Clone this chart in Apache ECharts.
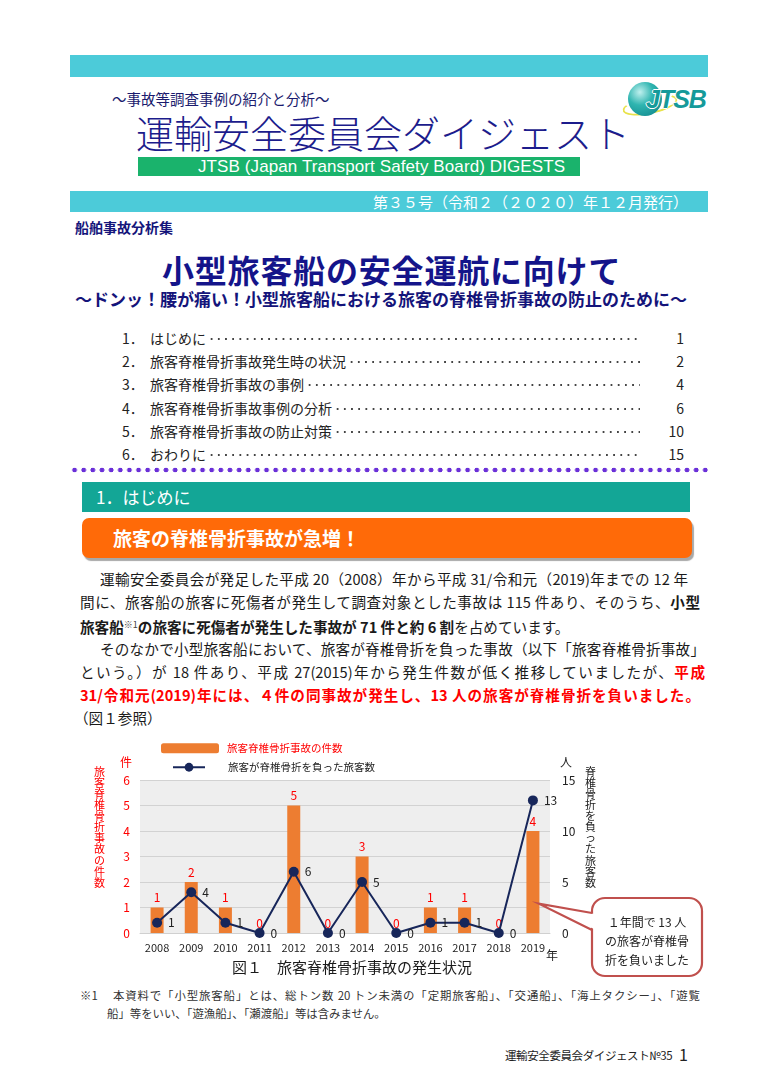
<!DOCTYPE html>
<html lang="ja">
<head>
<meta charset="utf-8">
<script src="https://cdn.jsdelivr.net/npm/echarts@6/dist/echarts.min.js"></script>
<style>
html,body{margin:0;padding:0;background:#fff;}
#page{position:relative;width:770px;height:1089px;overflow:hidden;font-family:"Noto Sans CJK JP","Noto Sans",sans-serif;color:#222;}
.a{position:absolute;white-space:nowrap;}
.band{background:#4ccbd9;}
.toc{position:absolute;left:122px;width:562px;height:20px;display:flex;align-items:center;font-size:14px;line-height:20px;color:#222;}
.toc .n{display:inline-block;width:28px;}
.toc .lead{flex:1;height:20px;background-image:radial-gradient(circle,#444 0.75px,rgba(0,0,0,0) 1.15px);background-size:7.2px 20px;background-repeat:repeat-x;background-position:2px 1px;}
.toc .p{width:44px;text-align:right;}
.ln{position:absolute;white-space:nowrap;font-size:14.6px;line-height:23px;height:23px;text-align:justify;text-align-last:justify;color:#1a1a1a;}
.b{font-weight:bold;}
.r{color:#f00;font-weight:bold;}
.fn{position:absolute;white-space:nowrap;font-size:11.4px;line-height:16px;color:#333;text-align:justify;text-align-last:justify;}
</style>
</head>
<body>
<div id="page">
  <div class="a band" style="left:70px;top:55px;width:638px;height:22px;"></div>
  <div class="a" style="left:112px;top:92px;font-size:14.5px;line-height:14px;color:#1b1b6e;">～事故等調査事例の紹介と分析～</div>
  <!-- logo -->
  <div class="a" style="left:622px;top:96px;width:52px;height:14px;border-radius:50%;border:2px solid #e8e24a;border-top-color:transparent;transform:rotate(-12deg);"></div>
  <div class="a" style="left:628px;top:82px;width:34px;height:34px;border-radius:50%;background:radial-gradient(circle at 35% 30%,#bff0ee 0%,#2fb5b0 40%,#0b7f86 100%);"></div>
  <div class="a" style="left:646px;top:84px;font-family:'Liberation Sans',sans-serif;font-style:italic;font-weight:bold;font-size:25px;line-height:30px;color:#159a9a;letter-spacing:-1px;text-shadow:1px 0 #fff,-1px 0 #fff,0 1px #fff,0 -1px #fff;">JTSB</div>
  <div class="a" style="left:136px;top:114px;font-size:38px;line-height:36px;font-weight:300;color:#1c1c8c;">運輸安全委員会ダイジェスト</div>
  <div class="a" style="left:138px;top:157px;width:442px;height:19px;background:#1ab36c;"></div>
  <div class="a" style="left:198px;top:157px;font-family:'Liberation Sans',sans-serif;font-size:17px;line-height:19px;color:#fff;font-weight:300;letter-spacing:0.1px;">JTSB (Japan Transport Safety Board) DIGESTS</div>
  <div class="a band" style="left:70px;top:191px;width:638px;height:21px;"></div>
  <div class="a" style="left:366px;top:191px;width:322px;font-size:15px;line-height:21px;color:#fff;text-align:right;">第３５号（令和２（２０２０）年１２月発行）</div>

  <div class="a" style="left:75px;top:219px;font-size:14px;line-height:16px;font-weight:bold;color:#14147a;">船舶事故分析集</div>
  <div class="a" style="left:162px;top:253px;font-size:32px;line-height:32px;font-weight:bold;color:#14148a;letter-spacing:0.8px;">小型旅客船の安全運航に向けて</div>
  <div class="a" style="left:75px;top:290px;font-size:17px;line-height:17px;font-weight:bold;color:#14147a;">～ドンッ！腰が痛い！小型旅客船における旅客の脊椎骨折事故の防止のために～</div>

  <div class="toc" style="top:328px;"><span class="n">1．</span><span>はじめに</span><span class="lead"></span><span class="p">1</span></div>
  <div class="toc" style="top:351px;"><span class="n">2．</span><span>旅客脊椎骨折事故発生時の状況</span><span class="lead"></span><span class="p">2</span></div>
  <div class="toc" style="top:374px;"><span class="n">3．</span><span>旅客脊椎骨折事故の事例</span><span class="lead"></span><span class="p">4</span></div>
  <div class="toc" style="top:398px;"><span class="n">4．</span><span>旅客脊椎骨折事故事例の分析</span><span class="lead"></span><span class="p">6</span></div>
  <div class="toc" style="top:421px;"><span class="n">5．</span><span>旅客脊椎骨折事故の防止対策</span><span class="lead"></span><span class="p">10</span></div>
  <div class="toc" style="top:444px;"><span class="n">6．</span><span>おわりに</span><span class="lead"></span><span class="p">15</span></div>

  <div class="a" style="left:70px;top:467px;width:640px;height:6px;background-image:radial-gradient(circle,#6a2fd8 2.1px,rgba(0,0,0,0) 2.6px);background-size:9.15px 6px;background-repeat:repeat-x;"></div>

  <div class="a" style="left:82px;top:482px;width:608px;height:30px;background:#13a696;"></div>
  <div class="a" style="left:96px;top:482px;font-size:17px;line-height:30px;color:#fff;">1．はじめに</div>
  <div class="a" style="left:82px;top:518px;width:610px;height:40px;border-radius:7px;background:#ff6a08;box-shadow:2px 3px 1px #a8a8a8;"></div>
  <div class="a" style="left:113px;top:518px;font-size:19px;line-height:40px;font-weight:bold;color:#fff;">旅客の脊椎骨折事故が急増！</div>

  <div class="ln" style="left:100px;top:567px;width:588px;">運輸安全委員会が発足した平成 20（2008）年から平成 31/令和元（2019)年までの 12 年</div>
  <div class="ln" style="left:80px;top:590px;width:620px;">間に、旅客船の旅客に死傷者が発生して調査対象とした事故は 115 件あり、そのうち、<span class="b">小型</span></div>
  <div class="ln" style="left:80px;top:613px;text-align:left;text-align-last:left;"><span class="b">旅客船</span><span style="font-size:9px;vertical-align:5px;color:#444;">※1</span><span class="b">の旅客に死傷者が発生した事故が 71 件と約 6 割</span>を占めています。</div>
  <div class="ln" style="left:100px;top:637px;width:605px;">そのなかで小型旅客船において、旅客が脊椎骨折を負った事故（以下「旅客脊椎骨折事故」</div>
  <div class="ln" style="left:80px;top:660px;width:625px;">という。）が 18 件あり、平成 27(2015)年から発生件数が低く推移していましたが、<span class="r">平成</span></div>
  <div class="ln r" style="left:80px;top:683px;width:620px;">31/令和元(2019)年には、４件の同事故が発生し、13 人の旅客が脊椎骨折を負いました。</div>
  <div class="ln" style="left:74px;top:706px;text-align:left;text-align-last:left;">（図１参照）</div>

  <div id="chart" class="a" style="left:80px;top:735px;width:640px;height:250px;"></div>
  <div class="a" style="left:232px;top:957px;font-size:15px;line-height:20px;color:#1a1a1a;">図１　旅客脊椎骨折事故の発生状況</div>

  <div class="fn" style="left:80px;top:987px;width:620px;"><span style="display:inline-block;width:32px;text-align-last:left;">※1</span>本資料で「小型旅客船」とは、総トン数 20 トン未満の「定期旅客船」、「交通船」、「海上タクシー」、「遊覧</div>
  <div class="fn" style="left:107px;top:1005px;text-align:left;text-align-last:left;">船」等をいい、「遊漁船」、「瀬渡船」等は含みません。</div>

  <div class="a" style="left:505px;top:1047px;font-size:11.5px;line-height:16px;color:#222;letter-spacing:-0.4px;">運輸安全委員会ダイジェスト№35</div>
  <div class="a" style="left:679px;top:1044px;font-size:16px;line-height:20px;color:#222;">1</div>
</div>
<script>
const years = ['2008','2009','2010','2011','2012','2013','2014','2015','2016','2017','2018','2019'];
const accidentCounts = [1, 2, 1, 0, 5, 0, 3, 0, 1, 1, 0, 4];
const injuredPassengers = [1, 4, 1, 0, 6, 0, 5, 0, 1, 1, 0, 13];
const countAxisMax = 6;
const countAxisStep = 1;
const personAxisMax = 15;
const personAxisStep = 5;
const seriesNames = ['旅客脊椎骨折事故の件数', '旅客が脊椎骨折を負った旅客数'];
const leftAxisTitle = '旅客脊椎骨折事故の件数';
const rightAxisTitle = '脊椎骨折を負った旅客数';
const leftUnit = '件';
const rightUnit = '人';
const xUnit = '年';
const calloutLines = ['１年間で 13 人', 'の旅客が脊椎骨', '折を負いました'];

const FONT = '"Noto Sans CJK JP","Noto Sans",sans-serif';
const chart = echarts.init(document.getElementById('chart'), null, {renderer: 'canvas'});
const option = {
  animation: false,
  textStyle: {fontFamily: FONT},
  grid: {left: 60, right: 170, top: 45, height: 153, show: true, backgroundColor: '#eeeeee', borderWidth: 0},
  legend: [
    {data: [seriesNames[0]], left: 81, top: 8, itemWidth: 58, itemHeight: 10, padding: 0,
     textStyle: {color: '#f00', fontSize: 10.5, padding: [0, 0, 0, 3]}},
    {data: [seriesNames[1]], left: 92, top: 27, itemWidth: 32, itemHeight: 11, padding: 0,
     textStyle: {color: '#222', fontSize: 10.5, padding: [0, 0, 0, 18]}}
  ],
  xAxis: {
    type: 'category', data: years,
    axisLine: {show: true, lineStyle: {color: '#d0d0d0'}},
    axisTick: {show: false},
    axisLabel: {color: '#222', fontSize: 11, margin: 9}
  },
  yAxis: [
    {type: 'value', min: 0, max: countAxisMax, interval: countAxisStep,
     name: leftUnit, nameLocation: 'end', nameGap: 12,
     nameTextStyle: {color: '#f00', fontSize: 12, align: 'right', padding: [0, 8, 0, 0]},
     axisLine: {show: false}, axisTick: {show: false},
     axisLabel: {color: '#f00', fontSize: 12, margin: 10},
     splitLine: {lineStyle: {color: '#d2d2d2', width: 1}}},
    {type: 'value', min: 0, max: personAxisMax, interval: personAxisStep, position: 'right',
     name: rightUnit, nameLocation: 'end', nameGap: 12,
     nameTextStyle: {color: '#222', fontSize: 12, align: 'left', padding: [0, 0, 0, 10]},
     axisLine: {show: false}, axisTick: {show: false},
     axisLabel: {color: '#222', fontSize: 12, margin: 12},
     splitLine: {show: false}}
  ],
  series: [
    {name: seriesNames[0], type: 'bar', data: accidentCounts, yAxisIndex: 0, barWidth: 13,
     itemStyle: {color: '#ed7d31'},
     label: {show: true, position: 'top', distance: 4, color: '#f00', fontSize: 12}},
    {name: seriesNames[1], type: 'line', data: injuredPassengers, yAxisIndex: 1,
     symbol: 'circle', symbolSize: 10, z: 5,
     lineStyle: {color: '#17265a', width: 2}, itemStyle: {color: '#17265a'},
     label: {show: true, position: 'right', distance: 6, color: '#222', fontSize: 12}}
  ]
};
chart.setOption(option);

// annotations positioned from the axes
const tip = chart.convertToPixel({xAxisIndex: 0, yAxisIndex: 0}, [years[years.length - 1], 1.15]);
const tipX = tip[0] + 6, tipY = tip[1];
const x0 = 512, y0 = 163, x1 = 622, y1 = 241, ya1 = 178, ya2 = 195;
const vert = s => s.split('').join('\n');
chart.setOption({
  graphic: [
    {type: 'text', left: 14, top: 31, style: {text: vert(leftAxisTitle), fill: '#f00', fontSize: 11, lineHeight: 11.1, fontFamily: FONT, align: 'center'}},
    {type: 'text', left: 505, top: 31, style: {text: vert(rightAxisTitle), fill: '#222', fontSize: 11, lineHeight: 11.1, fontFamily: FONT, align: 'center'}},
    {type: 'text', left: 466, top: 214, style: {text: xUnit, fill: '#222', fontSize: 12, fontFamily: FONT}},
    {type: 'rect', z: 10, shape: {x: x0, y: y0, width: x1 - x0, height: y1 - y0, r: 13},
     style: {fill: '#fff', stroke: '#c0504d', lineWidth: 2.2}},
    {type: 'polygon', z: 11, shape: {points: [[x0 + 2, ya1 + 1], [tipX, tipY], [x0 + 2, ya2 - 1]]},
     style: {fill: '#fff', stroke: null}},
    {type: 'polyline', z: 12, shape: {points: [[x0, ya1], [tipX, tipY], [x0, ya2]]},
     style: {fill: null, stroke: '#c0504d', lineWidth: 2.2}},
    {type: 'text', x: 567, y: 178, z: 13, style: {text: calloutLines.join('\n'), fill: '#222', fontSize: 12, lineHeight: 19, fontFamily: FONT, align: 'center', verticalAlign: 'top'}}
  ]
});
</script>
</body>
</html>
